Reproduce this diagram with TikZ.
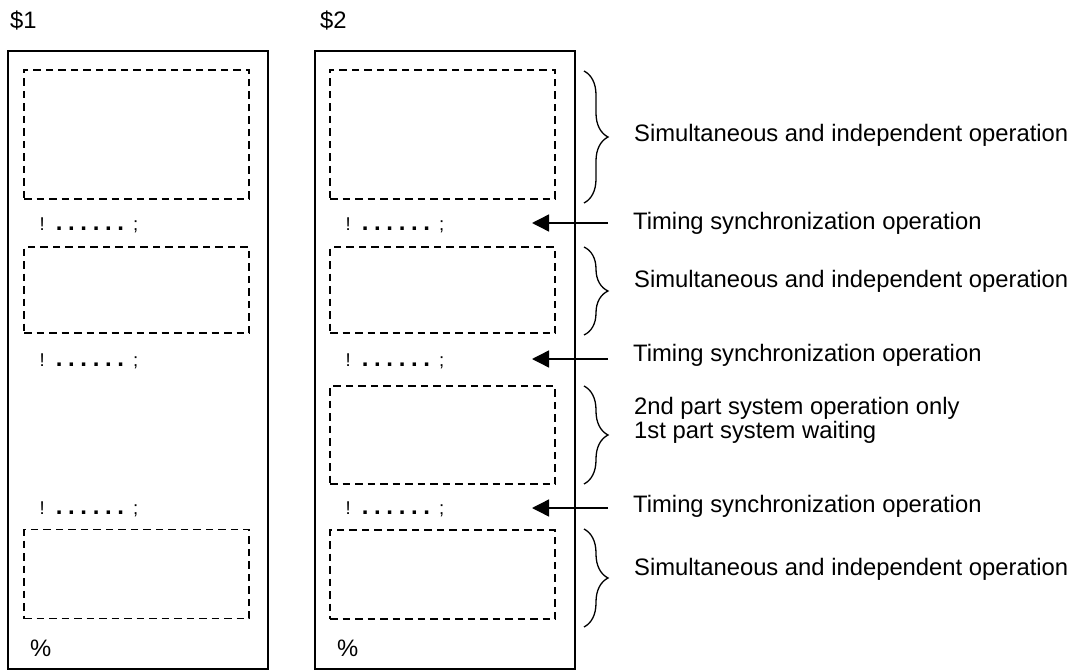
\documentclass[tikz,border=0pt]{standalone}
\usepackage{fontspec}
\setmainfont{Liberation Sans}
\usetikzlibrary{arrows.meta,decorations.pathreplacing}
\newcommand\syncdot{{\fontsize{24}{24}\selectfont\bfseries .}}
\newcommand\syncdots{!\hspace{11.1pt}\syncdot\hspace{5.6pt}\syncdot\hspace{5.6pt}\syncdot\hspace{5.6pt}\syncdot\hspace{5.6pt}\syncdot\hspace{5.6pt}\syncdot\hspace{9.1pt};}
\begin{document}
\begin{tikzpicture}[x=1pt,y=-1pt,
  frame/.style={draw, line width=1.4pt, inner sep=0pt, minimum width=260pt, minimum height=618pt},
  dbox/.style={draw, dash pattern=on 7.5pt off 5pt, line width=1.4pt, inner sep=0pt, minimum width=225pt},
  sync/.style={anchor=base west, inner sep=0pt, font=\fontsize{18.5}{20}\selectfont},
  lbl/.style={anchor=west, inner sep=0pt, font=\fontsize{23.8}{24}\selectfont, align=left},
  hdr/.style={anchor=west, inner sep=0pt, font=\fontsize{23.8}{24}\selectfont},
  pct/.style={anchor=west, inner sep=0pt, font=\fontsize{23.8}{24}\selectfont},
  arr/.style={line width=1.4pt, -{Triangle[length=17pt,width=17pt]}},
  brc/.style={line width=1.3pt, decorate, decoration={brace, amplitude=24pt}}]
\useasboundingbox (0,0) rectangle (1076,671);
% headers
\node[hdr] (h1) at (10,21) {\$1};
\node[hdr] (h2) at (320,21) {\$2};
% frames
\node[frame] (f1) at (138,360) {};
\node[frame] (f2) at (445,360) {};
% dashed boxes left
\node[dbox, minimum height=129pt] (l1) at (136.5,134.5) {};
\node[dbox, minimum height=86pt] (l2) at (136.5,290) {};
\node[dbox, minimum height=89pt] (l4) at (136.5,574) {};
% dashed boxes right
\node[dbox, minimum height=129pt] (r1) at (442.5,134.5) {};
\node[dbox, minimum height=86pt] (r2) at (442.5,290) {};
\node[dbox, minimum height=98pt] (r3) at (442.5,435) {};
\node[dbox, minimum height=89pt] (r4) at (442.5,574.5) {};
% sync lines
\node[sync] (ls1) at (39.5,230) {\syncdots};
\node[sync] (ls2) at (39.5,366) {\syncdots};
\node[sync] (ls3) at (39.5,514) {\syncdots};
\node[sync] (rs1) at (345.5,230) {\syncdots};
\node[sync] (rs2) at (345.5,366) {\syncdots};
\node[sync] (rs3) at (345.5,514) {\syncdots};
% end marks
\node[pct] (p1) at (30,648) {\%};
\node[pct] (p2) at (337,648) {\%};
% braces
\draw[brc] (584,71) -- (584,203);
\draw[brc] (584,247) -- (584,335);
\draw[brc] (584,386) -- (584,484);
\draw[brc] (584,529) -- (584,627);
% labels
\node[lbl] (t1) at (634,135) {Simultaneous and independent operation};
\node[lbl] (s1) at (633,223) {Timing synchronization operation};
\node[lbl] (t2) at (634,281) {Simultaneous and independent operation};
\node[lbl] (s2) at (633,355) {Timing synchronization operation};
\node[lbl] (t3) at (634,420) {2nd part system operation only\\1st part system waiting};
\node[lbl] (s3) at (633,506) {Timing synchronization operation};
\node[lbl] (t4) at (634,569) {Simultaneous and independent operation};
% arrows
\coordinate (a1s) at (608,223); \coordinate (a1e) at (532,223);
\coordinate (a2s) at (608,359); \coordinate (a2e) at (532,359);
\coordinate (a3s) at (608,508); \coordinate (a3e) at (532,508);
\draw[arr] (a1s) -- (a1e);
\draw[arr] (a2s) -- (a2e);
\draw[arr] (a3s) -- (a3e);
\end{tikzpicture}
\end{document}
